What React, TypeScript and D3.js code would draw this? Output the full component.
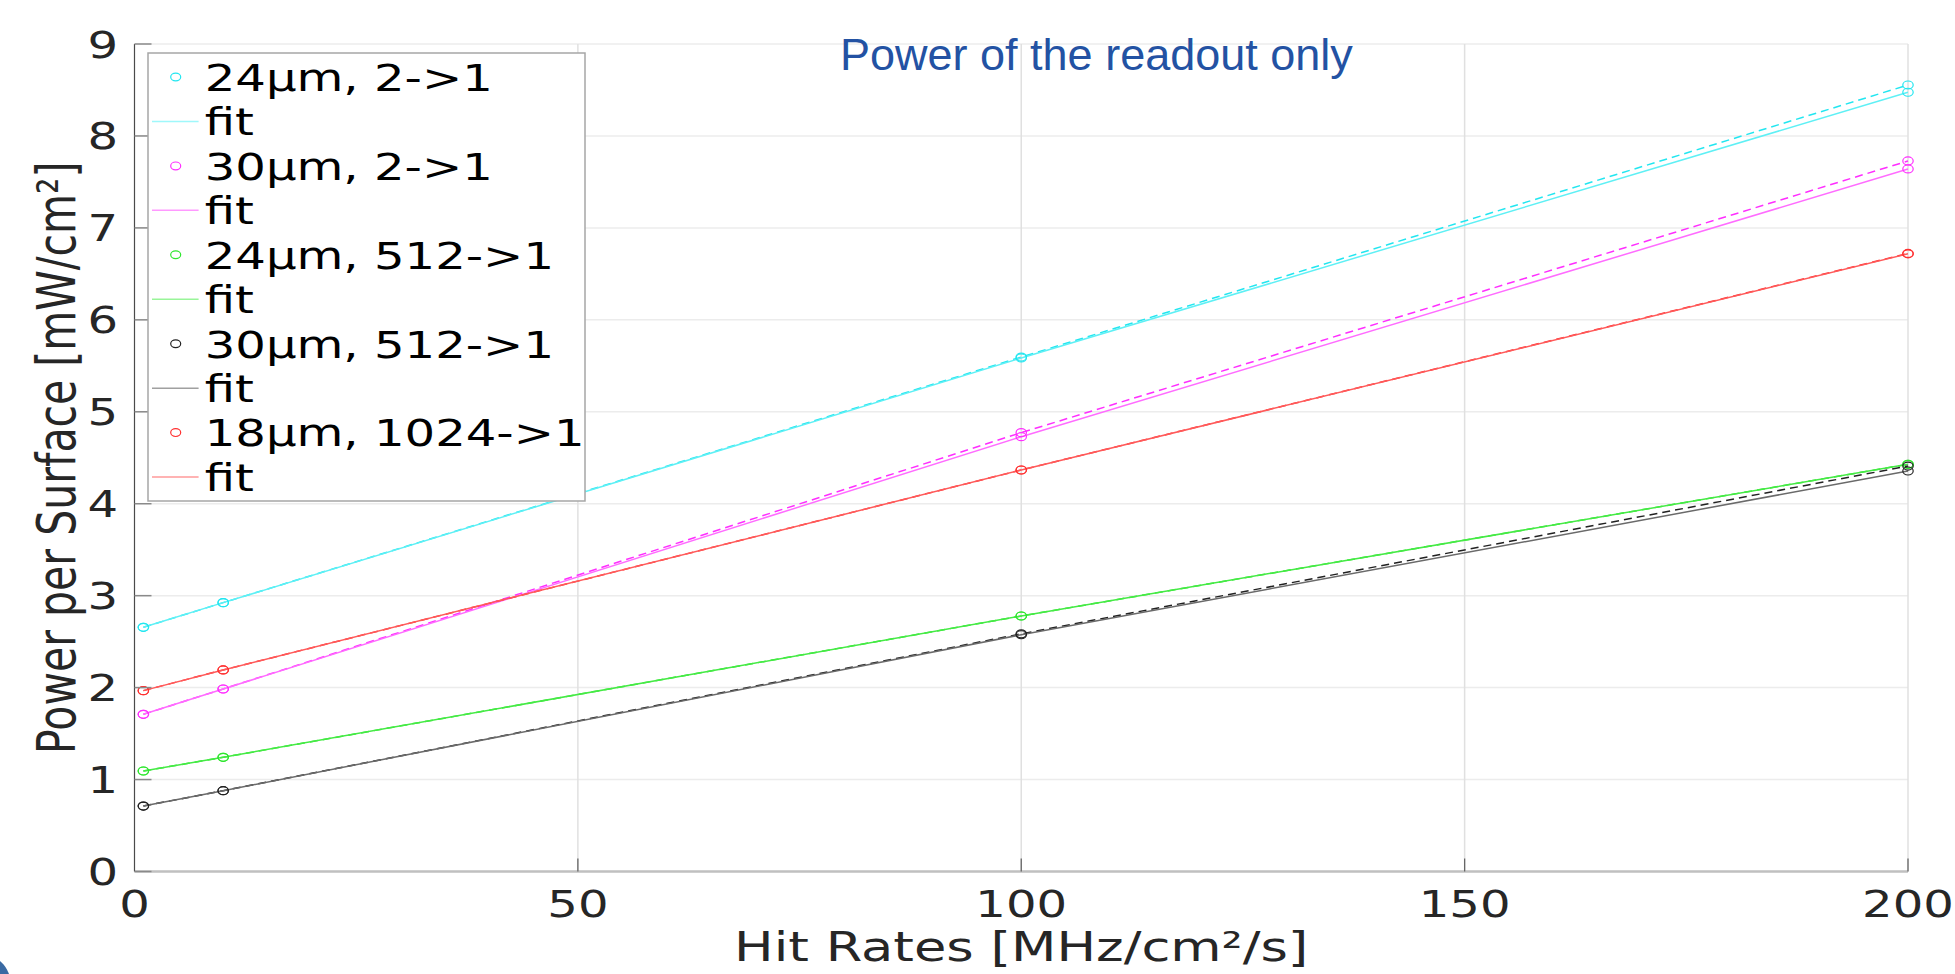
import React from "react";
import * as d3 from "d3";

const xValues = [1, 10, 100, 200];
const xTicks = [0, 50, 100, 150, 200];
const yTicks = [0, 1, 2, 3, 4, 5, 6, 7, 8, 9];

const labels = ["24µm, 2->1", "30µm, 2->1", "24µm, 512->1", "30µm, 512->1", "18µm, 1024->1"];
const fit24_2 = [2.656, 2.924, 5.585, 8.475];
const dash24_2 = [2.656, 2.924, 5.595, 8.554];
const fit30_2 = [1.71, 1.985, 4.729, 7.641];
const dash30_2 = [1.71, 1.985, 4.773, 7.728];
const fit24_512 = [1.093, 1.242, 2.779, 4.429];
const dash24_512 = [1.093, 1.242, 2.779, 4.429];
const fit30_512 = [0.712, 0.879, 2.575, 4.356];
const dash30_512 = [0.712, 0.879, 2.585, 4.41];
const fit18_1024 = [1.967, 2.192, 4.367, 6.718];
const dash18_1024 = [1.967, 2.192, 4.367, 6.722];

const series = [
  { label: labels[0], color: "#22e6f0", fitColor: "#5ff0f5", legendFit: "#9ff8fb", fit: fit24_2, dash: dash24_2 },
  { label: labels[1], color: "#ff2eff", fitColor: "#ff6cff", legendFit: "#ff99ff", fit: fit30_2, dash: dash30_2 },
  { label: labels[2], color: "#2ee62e", fitColor: "#45ea45", legendFit: "#99f599", fit: fit24_512, dash: dash24_512 },
  { label: labels[3], color: "#222222", fitColor: "#6a6a6a", legendFit: "#a0a0a0", fit: fit30_512, dash: dash30_512 },
  { label: labels[4], color: "#ff3030", fitColor: "#ff5a5a", legendFit: "#ff9a9a", fit: fit18_1024, dash: dash18_1024 },
];

const K = 1.3; // horizontal stretch of the original picture

export default function App() {
  const xs = d3.scaleLinear().domain([0, 200]).range([134.5, 1908]);
  const ys = d3.scaleLinear().domain([0, 9]).range([871.5, 44]);
  const line = d3
    .line<number>()
    .x((_, i) => xs(xValues[i]))
    .y((d) => ys(d));

  const font = "'DejaVu Sans', sans-serif";
  const rowY = (i: number) => 77 + i * 44.45;

  return (
    <svg
      width={1955}
      height={974}
      style={{ position: "absolute", left: 0, top: 0, background: "#fff" }}
    >
      <rect x={0} y={0} width={1955} height={974} fill="#ffffff" />
      {/* grid */}
      {yTicks.map((t) => (
        <line key={"gy" + t} x1={xs(0)} x2={xs(200)} y1={ys(t)} y2={ys(t)} stroke="#ececec" strokeWidth={1.5} />
      ))}
      {xTicks.filter((t) => t > 0).map((t) => (
        <line key={"gx" + t} x1={xs(t)} x2={xs(t)} y1={ys(0)} y2={ys(9)} stroke="#e0e0e0" strokeWidth={1.5} />
      ))}

      {/* series lines */}
      {series.map((s, si) => (
        <g key={"s" + si}>
          <path d={line(s.dash) || ""} fill="none" stroke={s.color} strokeWidth={1.5} strokeDasharray="8,5" />
          <path d={line(s.fit) || ""} fill="none" stroke={s.fitColor} strokeWidth={1.5} />
        </g>
      ))}
      {/* markers */}
      {series.map((s, si) => (
        <g key={"m" + si}>
          {s.dash.map((v, i) => (
            <ellipse key={"d" + i} cx={xs(xValues[i])} cy={ys(v)} rx={5.2} ry={4} fill="none" stroke={s.color} strokeWidth={1.2} />
          ))}
          {s.fit.map((v, i) => (
            <ellipse key={"f" + i} cx={xs(xValues[i])} cy={ys(v)} rx={5.2} ry={4} fill="none" stroke={s.color} strokeWidth={1.2} />
          ))}
        </g>
      ))}

      {/* axes */}
      <line x1={xs(0)} x2={xs(200)} y1={ys(0)} y2={ys(0)} stroke="#c0c0c0" strokeWidth={2.5} />
      <line x1={xs(0)} x2={xs(0)} y1={ys(0)} y2={ys(9)} stroke="#4a4a4a" strokeWidth={1.2} />
      {yTicks.map((t) => (
        <line key={"ty" + t} x1={xs(0)} x2={xs(0) + 17} y1={ys(t)} y2={ys(t)} stroke="#8a8a8a" strokeWidth={1.5} />
      ))}
      {xTicks.filter((t) => t > 0).map((t) => (
        <line key={"tx" + t} x1={xs(t)} x2={xs(t)} y1={ys(0)} y2={ys(0) - 13} stroke="#666" strokeWidth={1.3} />
      ))}
      {yTicks.map((t) => (
        <text
          key={"ly" + t}
          transform={`translate(118,${ys(t) + 13.5}) scale(${K},1)`}
          textAnchor="end"
          fontFamily={font}
          fontSize={37}
          fill="#262626"
        >
          {t}
        </text>
      ))}
      {xTicks.map((t) => (
        <text
          key={"lx" + t}
          transform={`translate(${xs(t)},917) scale(${K},1)`}
          textAnchor="middle"
          fontFamily={font}
          fontSize={37}
          fill="#262626"
        >
          {t}
        </text>
      ))}
      <text
        transform={`translate(${(xs(0) + xs(200)) / 2},961) scale(${K},1)`}
        textAnchor="middle"
        fontFamily={font}
        fontSize={40.5}
        fill="#262626"
      >
        Hit Rates [MHz/cm²/s]
      </text>
      <text
        transform={`translate(75,${(ys(0) + ys(9)) / 2}) scale(${K},1) rotate(-90)`}
        textAnchor="middle"
        fontFamily={font}
        fontSize={41}
        fill="#262626"
      >
        Power per Surface [mW/cm²]
      </text>

      {/* legend */}
      <rect x={148} y={53} width={437} height={448} fill="#ffffff" stroke="#a6a6a6" strokeWidth={1.5} />
      {series.map((s, si) => (
        <g key={"lg" + si}>
          <ellipse cx={175.7} cy={rowY(si * 2)} rx={5} ry={3.9} fill="none" stroke={s.color} strokeWidth={1.2} />
          <text
            transform={`translate(204.7,${rowY(si * 2) + 13.8}) scale(${K},1)`}
            fontFamily={font}
            fontSize={37}
            fill="#000"
          >
            {s.label}
          </text>
          <line x1={152} x2={198.6} y1={rowY(si * 2 + 1)} y2={rowY(si * 2 + 1)} stroke={s.legendFit} strokeWidth={1.5} />
          <text
            transform={`translate(204.7,${rowY(si * 2 + 1) + 13.8}) scale(${K},1)`}
            fontFamily={font}
            fontSize={37}
            fill="#000"
          >
            fit
          </text>
        </g>
      ))}

      {/* title */}
      <text x={840} y={70} fontFamily="'Liberation Sans', Arial, sans-serif" fontSize={45} fill="#2352a3">
        Power of the readout only
      </text>

      {/* corner decoration */}
      <path d="M0,961 Q6,966 9,974 L0,974 Z" fill="#3a6aa3" />
    </svg>
  );
}
